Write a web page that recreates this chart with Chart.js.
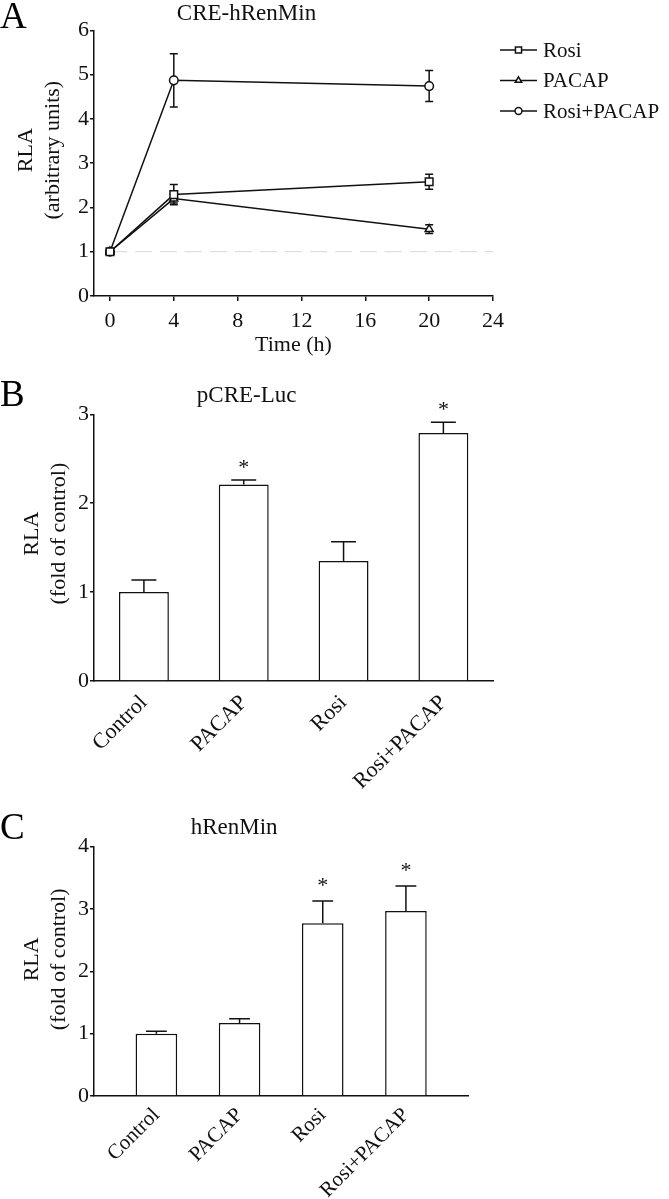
<!DOCTYPE html>
<html>
<head>
<meta charset="utf-8">
<script src="https://cdn.jsdelivr.net/npm/chart.js@4.4.1/dist/chart.umd.min.js"></script>
<style>
  body { margin: 0; background: #fff; width: 669px; height: 1199px; position: relative; overflow: hidden; font-family: "Liberation Serif", "Times New Roman", serif; }
  .panel { position: absolute; left: 0; width: 669px; }
  .letter { position: absolute; font-size: 37px; line-height: 36px; color: #000; }
</style>
</head>
<body>
<div class="panel" style="top:0;height:360px"><canvas id="chartA"></canvas></div>
<div class="panel" style="top:360px;height:440px"><canvas id="chartB"></canvas></div>
<div class="panel" style="top:800px;height:399px"><canvas id="chartC"></canvas></div>
<div class="letter" style="left:0;top:-2px">A</div>
<div class="letter" style="left:0;top:376px">B</div>
<div class="letter" style="left:0;top:809px">C</div>

<script>
// Panel A: time course (mean and SEM)
const timePoints = [0, 4, 20];
const timeTicks = [0, 4, 8, 12, 16, 20, 24];
const rosiMean = [1.0, 2.29, 2.58];
const rosiSem = [0.03, 0.23, 0.17];
const pacapMean = [1.0, 2.2, 1.51];
const pacapSem = [0.03, 0.1, 0.1];
const comboMean = [1.0, 4.87, 4.74];
const comboSem = [0.03, 0.6, 0.35];
const baselineX = [0, 24];
const baselineY = [1, 1];

// Panels B and C: treatment groups
const groups = ['Control', 'PACAP', 'Rosi', 'Rosi+PACAP'];
const creLucMean = [1.0, 2.21, 1.35, 2.79];
const creLucSem = [0.135, 0.05, 0.215, 0.12];
const creLucStars = ['', '*', '', '*'];
const renMinMean = [1.0, 1.17, 2.77, 2.97];
const renMinSem = [0.04, 0.07, 0.36, 0.40];
const renMinStars = ['', '', '*', '*'];

const serif = "'Liberation Serif', 'Times New Roman', serif";
Chart.defaults.font.family = serif;
Chart.defaults.color = '#000';
Chart.defaults.animation = false;

const ink = '#111';
const tickFont = { family: serif, size: 22 };
const titleFont = { family: serif, size: 23, weight: 'normal' };

function pairs(xs, ys) {
    return xs.map((x, i) => ({ x: x, y: ys[i] }));
}

// error bars, drawn under the markers
const errorBarPlugin = {
    id: 'errorBars',
    beforeDatasetsDraw(chart, args, opts) {
        const ctx = chart.ctx;
        const yScale = chart.scales.y;
        ctx.save();
        ctx.strokeStyle = ink;
        ctx.lineWidth = 1.5;
        chart.data.datasets.forEach((ds, i) => {
            if (!ds.errors) return;
            const meta = chart.getDatasetMeta(i);
            meta.data.forEach((el, j) => {
                const v = ds.data[j].y;
                const e = ds.errors[j];
                const top = yScale.getPixelForValue(v + e);
                const bottom = opts.upOnly ? el.y : yScale.getPixelForValue(v - e);
                const half = opts.upOnly ? el.width * opts.capRatio / 2 : opts.cap / 2;
                ctx.beginPath();
                ctx.moveTo(el.x, top);
                ctx.lineTo(el.x, bottom);
                ctx.moveTo(el.x - half, top);
                ctx.lineTo(el.x + half, top);
                if (!opts.upOnly) {
                    ctx.moveTo(el.x - half, bottom);
                    ctx.lineTo(el.x + half, bottom);
                }
                ctx.stroke();
            });
        });
        ctx.restore();
    }
};

// significance stars above the error bars
const starPlugin = {
    id: 'stars',
    afterDatasetsDraw(chart, args, opts) {
        const ctx = chart.ctx;
        const yScale = chart.scales.y;
        ctx.save();
        ctx.font = '22px ' + serif;
        ctx.fillStyle = ink;
        ctx.textAlign = 'center';
        ctx.textBaseline = 'middle';
        chart.data.datasets.forEach((ds, i) => {
            if (!ds.stars) return;
            const meta = chart.getDatasetMeta(i);
            meta.data.forEach((el, j) => {
                if (!ds.stars[j]) return;
                const y = yScale.getPixelForValue(ds.data[j].y + ds.errors[j]) - opts.gap;
                ctx.fillText(ds.stars[j], el.x, y);
            });
        });
        ctx.restore();
    }
};

// two-line rotated y title
const yTitlePlugin = {
    id: 'yTitle',
    afterDraw(chart, args, opts) {
        if (!opts.lines) return;
        const { ctx, chartArea } = chart;
        const cy = (chartArea.top + chartArea.bottom) / 2 + opts.shift;
        ctx.save();
        ctx.font = '22px ' + serif;
        ctx.fillStyle = ink;
        ctx.textAlign = 'center';
        ctx.textBaseline = 'middle';
        opts.lines.forEach((line, k) => {
            ctx.save();
            ctx.translate(opts.x + k * opts.gap, cy);
            ctx.rotate(-Math.PI / 2);
            ctx.fillText(line, 0, 0);
            ctx.restore();
        });
        ctx.restore();
    }
};

// legend with line + marker, like the original figure
const lineLegendPlugin = {
    id: 'lineLegend',
    afterDraw(chart, args, opts) {
        if (!opts.show) return;
        const ctx = chart.ctx;
        let y = opts.top;
        chart.data.datasets.forEach(ds => {
            if (!ds.errors) return;
            ctx.save();
            ctx.strokeStyle = ink;
            ctx.lineWidth = 1.5;
            ctx.beginPath();
            ctx.moveTo(opts.x, y);
            ctx.lineTo(opts.x + opts.len, y);
            ctx.stroke();
            ctx.fillStyle = '#fff';
            Chart.helpers.drawPoint(ctx, {
                pointStyle: ds.pointStyle, radius: ds.pointRadius * 0.8,
                borderWidth: 1.5, rotation: 0
            }, opts.x + opts.len / 2, y);
            ctx.fillStyle = ink;
            ctx.font = '21px ' + serif;
            ctx.textBaseline = 'middle';
            ctx.textAlign = 'left';
            ctx.fillText(ds.label, opts.x + opts.len + 6, y + 1);
            ctx.restore();
            y += opts.step;
        });
    }
};

Chart.register(errorBarPlugin, starPlugin, yTitlePlugin, lineLegendPlugin);

function seriesStyle(style, radius) {
    return {
        borderColor: ink, borderWidth: 1.5,
        pointStyle: style, pointRadius: radius,
        pointBackgroundColor: '#fff', pointBorderColor: ink, pointBorderWidth: 1.5,
        tension: 0
    };
}

function yAxis(max, width) {
    return {
        min: 0, max: max,
        ticks: { stepSize: 1, font: tickFont, color: ink, padding: 1 },
        grid: { drawOnChartArea: false, drawTicks: true, tickLength: 4, color: ink, lineWidth: 1.5 },
        border: { color: ink, width: 1.5 },
        afterFit: s => { s.width = width; }
    };
}

// Panel A
new Chart(document.getElementById('chartA'), {
    type: 'line',
    data: {
        datasets: [
            Object.assign({ label: 'Rosi', data: pairs(timePoints, rosiMean), errors: rosiSem }, seriesStyle('rect', 5.4)),
            Object.assign({ label: 'PACAP', data: pairs(timePoints, pacapMean), errors: pacapSem }, seriesStyle('triangle', 4.6)),
            Object.assign({ label: 'Rosi+PACAP', data: pairs(timePoints, comboMean), errors: comboSem }, seriesStyle('circle', 4.3)),
            {
                label: 'baseline', data: pairs(baselineX, baselineY),
                borderColor: '#d6d6d6', borderWidth: 1, borderDash: [17, 8], pointRadius: 0
            }
        ]
    },
    options: {
        responsive: true,
        maintainAspectRatio: false,
        layout: { padding: { left: 0, right: 176, top: 0, bottom: 0 } },
        plugins: {
            legend: { display: false },
            tooltip: { enabled: false },
            title: { display: true, text: 'CRE-hRenMin', font: titleFont, color: ink, padding: { top: 0.2, bottom: 2.5 } },
            errorBars: { upOnly: false, cap: 8 },
            yTitle: { lines: ['RLA', '(arbitrary units)'], x: 26, gap: 27, shift: -13 },
            lineLegend: { show: true, x: 500, len: 37, top: 50, step: 30.5 }
        },
        scales: {
            x: {
                type: 'linear', min: -1, max: 24,
                afterBuildTicks: s => { s.ticks = timeTicks.map(v => ({ value: v })); },
                ticks: { font: tickFont, color: ink, padding: 7, maxRotation: 0 },
                grid: { drawOnChartArea: false, drawTicks: true, tickLength: 5, color: ink, lineWidth: 1.5 },
                border: { color: ink, width: 1.5 },
                title: { display: true, text: 'Time (h)', font: tickFont, color: ink, padding: { top: 0, bottom: 1.3 } },
                afterFit: s => { s.height = 64; }
            },
            y: yAxis(6, 94)
        }
    }
});

function barChart(id, means, sems, stars, opts) {
    return new Chart(document.getElementById(id), {
        type: 'bar',
        data: {
            datasets: [{
                data: pairs(groups.map((g, i) => i + 1), means),
                errors: sems, stars: stars,
                backgroundColor: '#fff', borderColor: ink, borderWidth: 1.5,
                barPercentage: 0.5, categoryPercentage: 1
            }]
        },
        options: {
            responsive: true,
            maintainAspectRatio: false,
            layout: { padding: { left: 0, right: opts.right, top: 0, bottom: 0 } },
            plugins: {
                legend: { display: false },
                tooltip: { enabled: false },
                title: { display: true, text: opts.title, font: titleFont, color: ink, padding: opts.titlePad },
                errorBars: { upOnly: true, capRatio: 0.5 },
                stars: { gap: opts.starGap },
                yTitle: { lines: ['RLA', '(fold of control)'], x: 32, gap: 27, shift: opts.shift }
            },
            scales: {
                x: {
                    type: 'linear', offset: false, min: opts.xMin, max: opts.xMax,
                    afterBuildTicks: s => { s.ticks = groups.map((g, i) => ({ value: i + 1 })); },
                    ticks: {
                        callback: v => groups[v - 1], font: { family: serif, size: opts.labelSize }, color: ink,
                        minRotation: 45, maxRotation: 45, autoSkip: false, padding: opts.labelPad
                    },
                    grid: { drawOnChartArea: false, drawTicks: false },
                    border: { color: ink, width: 1.5 },
                    afterFit: s => { s.height = opts.xHeight; }
                },
                y: yAxis(opts.yMax, 94)
            }
        }
    });
}

// Panel B
barChart('chartB', creLucMean, creLucSem, creLucStars, {
    title: 'pCRE-Luc', titlePad: { top: 22.2, bottom: 4.5 }, right: 175.7,
    xMin: 0.5, xMax: 4.5, xHeight: 119, yMax: 3, shift: -14,
    labelSize: 22, labelPad: 9, starGap: 12
});

// Panel C
barChart('chartC', renMinMean, renMinSem, renMinStars, {
    title: 'hRenMin', titlePad: { top: 14.2, bottom: 4.9 }, right: 200.7,
    xMin: 0.25, xMax: 4.75, xHeight: 103, yMax: 4, shift: -12,
    labelSize: 21, labelPad: 7, starGap: 15
});
</script>
</body>
</html>
